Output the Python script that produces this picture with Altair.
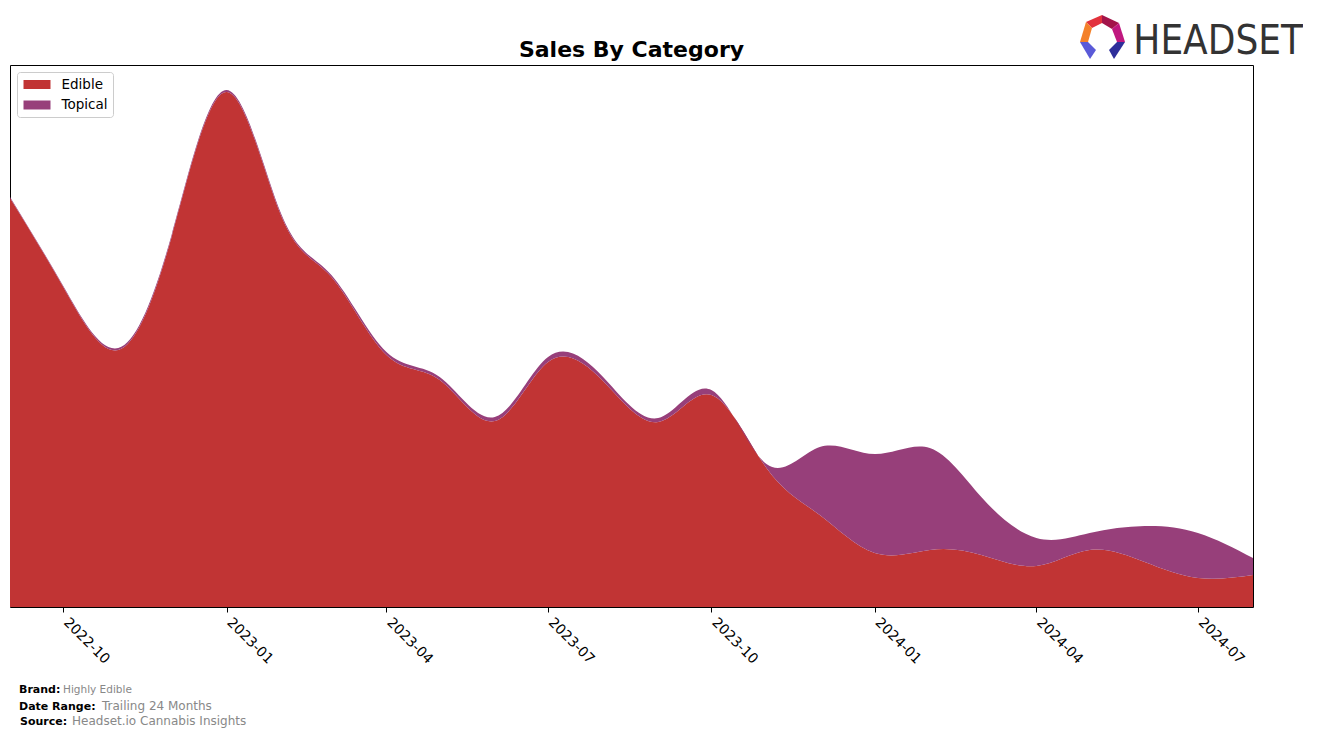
import altair as alt
import pandas as pd

# ---------------- data ----------------
months = ["2022-09-01", "2022-10-01", "2022-11-01", "2022-12-01",
          "2023-01-01", "2023-02-01", "2023-03-01", "2023-04-01",
          "2023-05-01", "2023-06-01", "2023-07-01", "2023-08-01",
          "2023-09-01", "2023-10-01", "2023-11-01", "2023-12-01",
          "2024-01-01", "2024-02-01", "2024-03-01", "2024-04-01",
          "2024-05-01", "2024-06-01", "2024-07-01", "2024-08-01"]
edible = [409, 320, 257, 370, 515, 390, 330, 252, 227, 186, 245, 226,
          185, 212, 139, 92, 54, 57, 52, 41, 57, 45, 29, 32]
topical = [1, 1, 2, 2, 2, 2, 2, 3, 3, 4, 5, 4,
           4, 5, 4, 68, 99, 102, 58, 28, 17, 36, 45, 17]
categories = ["Edible", "Topical"]
colors = ["#c13434", "#973f7a"]
tick_dates = ["2022-10-01", "2023-01-01", "2023-04-01", "2023-07-01",
              "2023-10-01", "2024-01-01", "2024-04-01", "2024-07-01"]

rows = []
for m, e, t in zip(months, edible, topical):
    rows.append({"month": m, "category": "Edible", "sales": e})
    rows.append({"month": m, "category": "Topical", "sales": t})
df = pd.DataFrame(rows)


def utc(s):
    y, mo, d = map(int, s.split("-"))
    return alt.DateTime(year=y, month=mo, date=d, utc=True)


W, H = 1243, 542
FONT = "DejaVu Sans"

area = alt.Chart(df).mark_area(interpolate="natural").encode(
    x=alt.X(
        "month:T",
        scale=alt.Scale(type="utc", domain=[utc(months[0]), utc(months[-1])]),
        axis=alt.Axis(
            values=[utc(d) for d in tick_dates], format="%Y-%m",
            labelAngle=45, labelAlign="left", labelBaseline="top",
            title=None, grid=False, domain=False,
            tickColor="black", tickSize=5, tickWidth=1,
            labelColor="black", labelFont=FONT, labelFontSize=14,
            labelPadding=3, labelOffset=7, labelFlush=False, labelOverlap=False,
        ),
    ),
    y=alt.Y("sales:Q", stack="zero",
            scale=alt.Scale(domain=[0, H], nice=False, zero=True), axis=None),
    color=alt.Color(
        "category:N",
        scale=alt.Scale(domain=categories, range=colors),
        legend=alt.Legend(
            title=None, orient="none", legendX=7, legendY=7,
            symbolType="M-0.857,-0.643H3V0.643H-0.857Z", symbolSize=196,
            symbolStrokeWidth=0, symbolOpacity=1,
            labelFont=FONT, labelFontSize=13.5, labelColor="black",
            labelOffset=25, padding=5.5, rowPadding=6.5,
            strokeColor="#cccccc", fillColor="white", cornerRadius=3,
        ),
    ),
    order=alt.Order("category:N", sort="ascending"),
)


def text_layer(txt, x, y, size, color, weight="normal", align="left", font=FONT):
    return alt.Chart(pd.DataFrame({"t": [txt]})).mark_text(
        align=align, baseline="alphabetic", font=font, fontSize=size,
        fontWeight=weight, color=color,
    ).encode(text="t:N", x=alt.value(x), y=alt.value(y))


title = text_layer("Sales By Category", W / 2, -8, 22, "black", "bold",
                   align="center")

footer = [
    text_layer("Brand:", 9, 628, 11, "black", "bold"),
    text_layer("Highly Edible", 53, 628, 10.5, "#888888"),
    text_layer("Date Range:", 9, 645, 11, "black", "bold"),
    text_layer("Trailing 24 Months", 92, 645, 12, "#888888"),
    text_layer("Source:", 10, 660, 11, "black", "bold"),
    text_layer("Headset.io Cannabis Insights", 62, 660, 12, "#888888"),
]

logo_text = text_layer("HEADSET", 1293, -11, 40, "#333333",
                       font="DejaVu Sans Condensed, DejaVu Sans",
                       align="right")

icon_pieces = [
    ("M-16,-15L0,-22L0,-14L-10,-9Z", "#e2323c"),
    ("M0,-22L17,-14L10,-8L0,-14Z", "#a3144a"),
    ("M17,-14L23,5L15,5L10,-8Z", "#c0187f"),
    ("M-16,-15L-10,-9L-14,5L-22,5Z", "#f4812a"),
    ("M-22,5L-14,5L-6,13L-12,22Z", "#5a5ad8"),
    ("M23,5L15,5L7,13L12,22Z", "#2e2e9a"),
]
icon = [
    alt.Chart(pd.DataFrame({"a": [0]})).mark_point(
        shape=p, filled=True, fill=c, size=4, opacity=1, strokeWidth=0
    ).encode(x=alt.value(1092), y=alt.value(-28))
    for p, c in icon_pieces
]

chart = alt.layer(area, title, *footer, logo_text, *icon).properties(
    width=W, height=H,
    padding={"left": 2, "top": 57, "right": 50, "bottom": 121},
    autosize=alt.AutoSizeParams(type="none"),
).configure_view(stroke="black", strokeWidth=1)

chart.save("out.html", embed_options={"renderer": "svg", "actions": False})
